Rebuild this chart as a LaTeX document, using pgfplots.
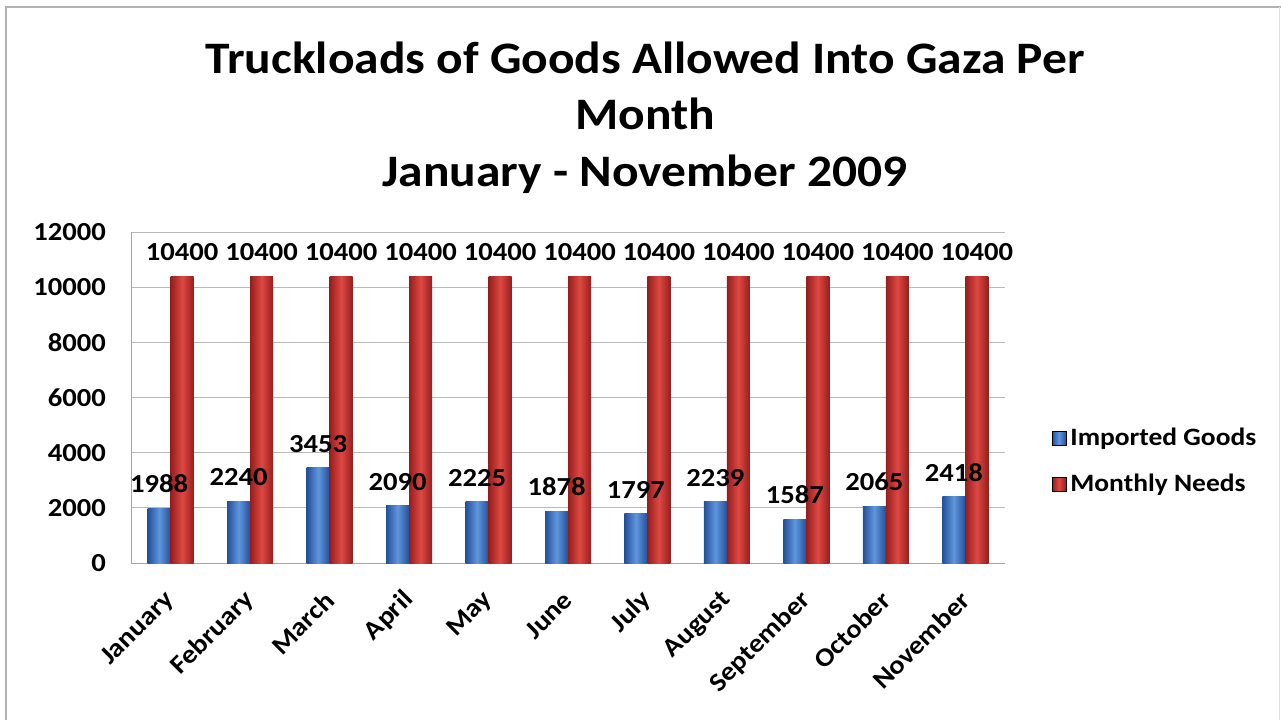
\documentclass[border=0pt]{standalone}
\usepackage{fontspec}
\setmainfont[FakeStretch=1.1]{Carlito}
\usepackage{pgfplots}
\pgfplotsset{compat=1.18}

\definecolor{bluemid}{RGB}{95,150,220}
\definecolor{blueedge}{RGB}{35,80,155}
\definecolor{redmid}{RGB}{222,72,66}
\definecolor{rededge}{RGB}{150,30,30}

% one bar per \addplot so each bar gets its own cylinder shading
\pgfplotsset{
  bbar/.style={ybar, bar width=11.5pt, bar shift=-5.75pt, draw=none, forget plot,
    left color=blueedge, right color=blueedge, middle color=bluemid,
    every node near coord/.append style={xshift=-5.75pt}},
  rbar/.style={ybar, bar width=11.5pt, bar shift=5.75pt, draw=none, forget plot,
    left color=rededge, right color=rededge, middle color=redmid,
    every node near coord/.append style={xshift=5.75pt}},
}

\begin{document}
\begin{tikzpicture}
\path[use as bounding box] (0,0) rectangle (640.5pt,360pt);
\draw[gray!60, line width=1pt] (3pt,0) -- (3pt,356.5pt) -- (640.5pt,356.5pt);
\draw[gray!25, line width=0.5pt] (639.8pt,0) -- (639.8pt,356.5pt);
\begin{scope}[every node/.style={font=\bfseries\fontsize{22.5}{27}\selectfont, anchor=base}]
\node at (322.5pt,323.5pt) {Truckloads of Goods Allowed Into Gaza Per};
\node at (322.5pt,295.5pt) {Month};
\node at (322.5pt,267pt) {January - November 2009};
\end{scope}
\begin{axis}[
  at={(65.5pt,78.5pt)}, anchor=south west,
  scale only axis, width=437pt, height=165.5pt,
  xmin=-0.5, xmax=10.5, ymin=0, ymax=12000,
  xtick={0,...,10},
  xticklabels={January,February,March,April,May,June,July,August,September,October,November},
  ytick={0,2000,...,12000},
  scaled y ticks=false,
  ymajorgrids, grid style={gray!55},
  axis lines*=left,
  axis line style={gray!70},
  major tick length=0pt,
  tick label style={font=\bfseries\fontsize{13}{15}\selectfont},
  yticklabel shift=9pt,
  xticklabel style={xshift=2.5pt, rotate=45, anchor=east},
  xticklabel shift=14pt,
  /pgf/number format/assume math mode=true,
  /pgf/number format/1000 sep={},
  nodes near coords,
  nodes near coords style={font=\bfseries\fontsize{13}{15}\selectfont, text=black, yshift=4pt},
  legend style={at={(1.046,0.307)}, anchor=west, draw=none, fill=none,
    font=\bfseries\fontsize{12.5}{15}\selectfont, row sep=9pt},
  legend cell align=left,
]
% Imported Goods
\addplot[bbar] coordinates {(0,1988)};
\addplot[bbar] coordinates {(1,2240)};
\addplot[bbar] coordinates {(2,3453)};
\addplot[bbar] coordinates {(3,2090)};
\addplot[bbar] coordinates {(4,2225)};
\addplot[bbar] coordinates {(5,1878)};
\addplot[bbar] coordinates {(6,1797)};
\addplot[bbar] coordinates {(7,2239)};
\addplot[bbar] coordinates {(8,1587)};
\addplot[bbar] coordinates {(9,2065)};
\addplot[bbar] coordinates {(10,2418)};
% Monthly Needs
\addplot[rbar] coordinates {(0,10400)};
\addplot[rbar] coordinates {(1,10400)};
\addplot[rbar] coordinates {(2,10400)};
\addplot[rbar] coordinates {(3,10400)};
\addplot[rbar] coordinates {(4,10400)};
\addplot[rbar] coordinates {(5,10400)};
\addplot[rbar] coordinates {(6,10400)};
\addplot[rbar] coordinates {(7,10400)};
\addplot[rbar] coordinates {(8,10400)};
\addplot[rbar] coordinates {(9,10400)};
\addplot[rbar] coordinates {(10,10400)};
\addlegendimage{legend image code/.code={\fill[left color=blueedge, right color=blueedge, middle color=bluemid] (0pt,-3.5pt) rectangle (7pt,3.5pt);}}
\addlegendentry{Imported Goods}
\addlegendimage{legend image code/.code={\fill[left color=rededge, right color=rededge, middle color=redmid] (0pt,-3.5pt) rectangle (7pt,3.5pt);}}
\addlegendentry{Monthly Needs}
\end{axis}
\end{tikzpicture}
\end{document}
